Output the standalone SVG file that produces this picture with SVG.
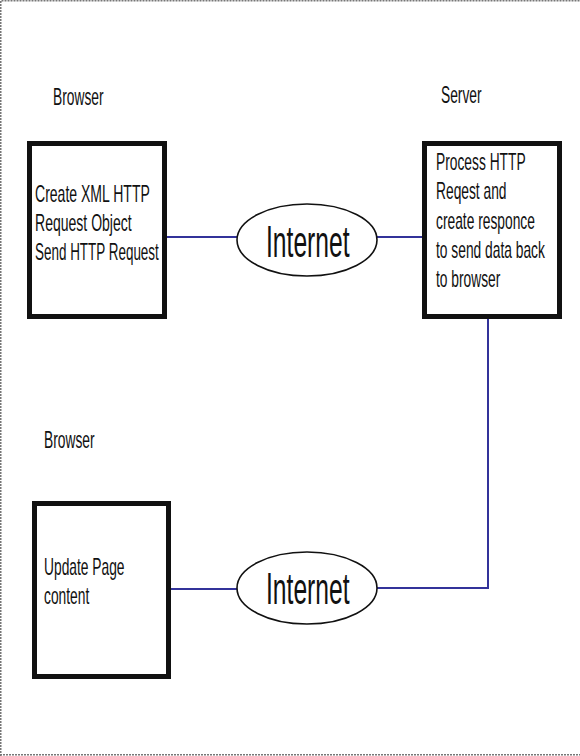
<svg xmlns="http://www.w3.org/2000/svg" width="580" height="756" viewBox="0 0 580 756">
<style>
.box{fill:#fff;stroke:#111;stroke-width:5}
.oval{fill:#fff;stroke:#111;stroke-width:1.6}
.t{font-family:"Liberation Sans",Arial,sans-serif;font-size:23px;fill:#111}
.big{font-family:"Liberation Sans",Arial,sans-serif;font-size:44px;fill:#111}
.conn{fill:none;stroke:#33339a;stroke-width:2}
.frame{fill:none;stroke:#777;stroke-width:1.5;stroke-dasharray:2 1}
</style>
<rect width="580" height="756" fill="#fff"/>
<path class="frame" d="M0.75,756 V0.75 H580 M0,754.75 H580"/>
<g id="connectors">
<path class="conn" d="M167,237 H237"/>
<path class="conn" d="M377,237 H422"/>
<path class="conn" d="M488,319 V588 H377"/>
<path class="conn" d="M237,589 H171"/>
</g>
<g id="label-browser1"><text class="t" transform="translate(53,105) scale(0.6,1)">Browser</text></g>
<g id="label-server"><text class="t" transform="translate(441,103) scale(0.6,1)">Server</text></g>
<g id="label-browser2"><text class="t" transform="translate(44,448) scale(0.6,1)">Browser</text></g>
<g id="browser-request">
<rect class="box" x="29.5" y="143.5" width="135" height="173"/>
<text class="t" transform="translate(35,202) scale(0.61,1)">Create XML HTTP</text>
<text class="t" transform="translate(35,231) scale(0.61,1)">Request Object</text>
<text class="t" transform="translate(35,260) scale(0.585,1)">Send HTTP Request</text>
</g>
<g id="internet1">
<ellipse class="oval" cx="307" cy="240" rx="70" ry="36"/>
<text class="big" transform="translate(266,257) scale(0.56,1)">Internet</text>
</g>
<g id="server">
<rect class="box" x="424.5" y="143.5" width="135" height="173"/>
<text class="t" transform="translate(436,170) scale(0.6,1)">Process HTTP</text>
<text class="t" transform="translate(436,199) scale(0.6,1)">Reqest and</text>
<text class="t" transform="translate(436,229) scale(0.6,1)">create responce</text>
<text class="t" transform="translate(436,258) scale(0.6,1)">to send data back</text>
<text class="t" transform="translate(436,287) scale(0.6,1)">to browser</text>
</g>
<g id="internet2">
<ellipse class="oval" cx="307" cy="588" rx="70" ry="36"/>
<text class="big" transform="translate(266,604) scale(0.56,1)">Internet</text>
</g>
<g id="browser-update">
<rect class="box" x="34.5" y="503.5" width="134" height="173"/>
<text class="t" transform="translate(44,575) scale(0.6,1)">Update Page</text>
<text class="t" transform="translate(44,604) scale(0.6,1)">content</text>
</g>
</svg>
